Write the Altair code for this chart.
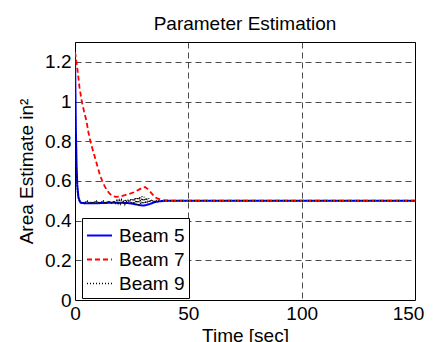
import altair as alt
import pandas as pd

FONT = "Liberation Sans"

series_names = ["Beam 5", "Beam 7", "Beam 9"]
series_colors = ["#0000ff", "#ff0000", "#000000"]
series_dash = [[1, 0], [5, 3], [1, 2]]
series_width = [2.0, 1.6, 1.4]

# Beam 5 (blue, solid)
t5 = [0, 0.2, 0.4, 0.7, 1.0, 1.5, 2.0, 2.5, 5, 10, 15, 20, 24, 26, 28, 30, 31, 33, 35, 37, 40, 45, 150]
v5 = [1.25, 1.05, 0.85, 0.68, 0.58, 0.52, 0.50, 0.49, 0.487, 0.488, 0.49, 0.49, 0.488, 0.484, 0.479, 0.476, 0.477, 0.484, 0.492, 0.497, 0.5, 0.5, 0.5]

# Beam 7 (red, dashed)
t7 = [0, 1, 2, 3, 4, 5, 6, 7, 8, 9, 10, 11, 12, 13, 14, 15, 16, 17, 18, 20, 22, 24, 26, 28, 30, 31, 32, 33, 34, 35, 36, 38, 40, 45, 150]
v7 = [1.25, 1.17, 1.07, 1.0, 0.95, 0.905, 0.84, 0.79, 0.75, 0.71, 0.67, 0.63, 0.60, 0.575, 0.555, 0.54, 0.528, 0.522, 0.52, 0.522, 0.528, 0.535, 0.543, 0.555, 0.568, 0.568, 0.56, 0.548, 0.535, 0.522, 0.513, 0.505, 0.502, 0.5, 0.5]

# Beam 9 (black, dotted, noisy)
t9 = [0, 0.4, 0.9, 1.5,
      2, 2.5, 3, 3.5, 4, 4.5, 5, 5.5, 6, 6.5, 7, 7.5, 8, 8.5, 9, 9.5,
      10, 10.5, 11, 11.5, 12, 12.5, 13, 13.5, 14, 14.5, 15, 15.5, 16, 16.5, 17, 17.5, 18, 18.5, 19, 19.5,
      20, 20.5, 21, 21.5, 22, 22.5, 23, 23.5, 24, 24.5, 25, 25.5, 26, 26.5, 27, 27.5, 28, 28.5, 29, 29.5,
      30, 30.5, 31, 31.5, 32, 32.5, 33, 33.5, 34, 34.5, 35, 35.5, 36, 36.5, 37, 37.5, 38, 38.5, 39, 39.5,
      40, 45, 150]
v9 = [1.0, 0.72, 0.56, 0.51,
      0.50, 0.495, 0.49, 0.495, 0.488, 0.496, 0.489, 0.497, 0.488, 0.495, 0.49, 0.498, 0.489, 0.496, 0.488, 0.497,
      0.49, 0.498, 0.489, 0.497, 0.49, 0.498, 0.488, 0.497, 0.49, 0.499, 0.489, 0.498, 0.49, 0.499, 0.488, 0.5, 0.489, 0.501, 0.488, 0.502,
      0.487, 0.503, 0.486, 0.505, 0.486, 0.506, 0.485, 0.508, 0.484, 0.51, 0.483, 0.512, 0.482, 0.515, 0.481, 0.518, 0.48, 0.52, 0.482, 0.522,
      0.483, 0.52, 0.485, 0.516, 0.488, 0.512, 0.491, 0.508, 0.494, 0.505, 0.496, 0.503, 0.498, 0.502, 0.499, 0.501, 0.5, 0.5, 0.5, 0.5,
      0.5, 0.5, 0.5]

x_ticks = [0, 50, 100, 150]
y_ticks = [0, 0.2, 0.4, 0.6, 0.8, 1.0, 1.2]

rows = []
for name, ts, vs in [("Beam 5", t5, v5), ("Beam 7", t7, v7), ("Beam 9", t9, v9)]:
    for i, (t, v) in enumerate(zip(ts, vs)):
        rows.append({"series": name, "t": t, "v": v, "i": i})
df = pd.DataFrame(rows)

chart = alt.Chart(df).mark_line(clip=True).encode(
    x=alt.X("t:Q", scale=alt.Scale(domain=[0, 150], nice=False),
            axis=alt.Axis(values=x_ticks, title="Time [sec]", format="d", labelFlush=False,
                          labelOffset={"condition": {"test": "datum.value == 150", "value": -7},
                                       "value": 0})),
    y=alt.Y("v:Q", scale=alt.Scale(domain=[0, 1.3], nice=False),
            axis=alt.Axis(values=y_ticks, title="Area Estimate in²", format="~g", labelFlush=False)),
    color=alt.Color("series:N", scale=alt.Scale(domain=series_names, range=series_colors),
                    legend=alt.Legend(title=None, orient="none", legendX=7, legendY=176,
                                      symbolType="stroke", symbolSize=625, symbolStrokeWidth=1.6,
                                      labelFontSize=19, labelFont=FONT, labelColor="black",
                                      strokeColor="black", fillColor="white", padding=4,
                                      rowPadding=0, cornerRadius=0, labelOffset=6)),
    strokeDash=alt.StrokeDash("series:N", scale=alt.Scale(domain=series_names, range=series_dash)),
    strokeWidth=alt.StrokeWidth("series:N", scale=alt.Scale(domain=series_names, range=series_width),
                                legend=None),
    order="i:Q",
).properties(
    width=340, height=258,
    title=alt.Title("Parameter Estimation", fontSize=19, font=FONT, fontWeight="normal",
                    color="black", offset=8),
    autosize=alt.AutoSizeParams(type="none"),
    padding={"left": 67, "top": 34, "right": 10, "bottom": 42},
).configure_view(
    stroke="black", strokeWidth=1
).configure_axis(
    labelFont=FONT, labelFontSize=19, labelColor="black",
    titleFont=FONT, titleFontSize=19, titleFontWeight="normal", titleColor="black",
    grid=True, gridColor="black", gridDash=[6, 4], gridOpacity=0.7, gridWidth=1,
    domain=False, ticks=False, labelPadding=4,
).configure_axisY(
    titlePadding=8
).configure_axisX(
    titlePadding=3
)

chart.save("out.html", embed_options={"renderer": "svg", "actions": False})
